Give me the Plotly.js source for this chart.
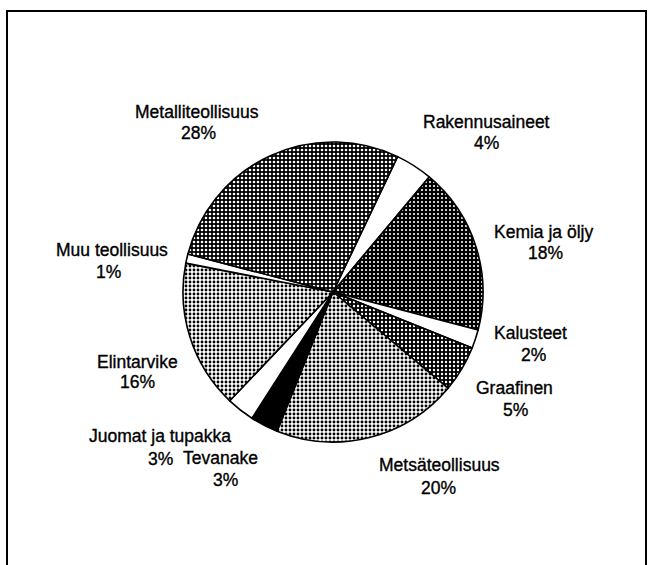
<!DOCTYPE html>
<html>
<head>
<meta charset="utf-8">
<script src="https://cdn.plot.ly/plotly-3.0.1.min.js"></script>
<style>
html,body{margin:0;padding:0;background:#fff;}
#chart{width:650px;height:565px;}
#chart .annotation-text{stroke:#000;stroke-width:0.35px;}
</style>
</head>
<body>
<div id="chart"></div>
<script>
// Data
var labels = ["Rakennusaineet", "Kemia ja öljy", "Kalusteet", "Graafinen", "Metsäteollisuus", "Tevanake", "Juomat ja tupakka", "Elintarvike", "Muu teollisuus", "Metalliteollisuus"];
var values = [4, 18, 2, 5, 20, 3, 3, 16, 1, 28];

// Styles (halftone-like fills)
var bgColors = ["#ffffff", "#000000", "#ffffff", "#000000", "#ffffff", "#000000", "#ffffff", "#ffffff", "#ffffff", "#000000"];
var fgColors = ["#ffffff", "#ffffff", "#ffffff", "#ffffff", "#000000", "#000000", "#ffffff", "#000000", "#ffffff", "#ffffff"];
var shapes   = ["", ".", "", ".", ".", "", "", ".", "", "."];
var solid    = [0.3, 0.22, 0.3, 0.28, 0.42, 0.3, 0.3, 0.4, 0.3, 0.34];

// Label positions in pixels (centre of name line, centre of percent line)
var namePos = [[486, 122], [543, 232], [530, 333], [514, 388], [439, 465], [220, 458], [160, 436], [137, 362], [112, 250], [197, 112]];
var pctPos  = [[486, 143], [545, 253], [533, 355], [515, 410], [438, 488], [225, 480], [160, 459], [137, 382], [108, 272], [198, 133]];

var W = 650, H = 565;
var font = {family: "Liberation Sans, Arial, sans-serif", size: 17.5, color: "#000"};
function ann(text, p) {
  return {text: text, x: p[0] / W, y: 1 - p[1] / H, xref: "paper", yref: "paper", showarrow: false,
          xanchor: "center", yanchor: "middle", font: font};
}
var annotations = [];
labels.forEach(function (l, i) {
  annotations.push(ann(l, namePos[i]));
  annotations.push(ann(values[i] + "%", pctPos[i]));
});

var cx = 333, cy = 292, r = 150;
var trace = {
  type: "pie",
  labels: labels,
  values: values,
  sort: false,
  direction: "clockwise",
  rotation: 25.5,
  textinfo: "none",
  hoverinfo: "label+percent",
  showlegend: false,
  domain: {x: [(cx - r) / W, (cx + r) / W], y: [1 - (cy + r) / H, 1 - (cy - r) / H]},
  marker: {
    colors: bgColors,
    line: {color: "#000", width: 1.6},
    pattern: {shape: shapes, fgcolor: fgColors, bgcolor: bgColors, size: 4, solidity: solid, fillmode: "replace"}
  }
};

var layout = {
  width: W, height: H,
  margin: {l: 0, r: 0, t: 0, b: 0},
  paper_bgcolor: "#fff",
  showlegend: false,
  annotations: annotations,
  shapes: [{type: "rect", xref: "paper", yref: "paper", x0: 7 / W, x1: 646 / W, y0: -0.05, y1: 1 - 11 / H, line: {color: "#000", width: 2}}]
};

Plotly.newPlot("chart", [trace], layout, {displayModeBar: false, staticPlot: true});
</script>
</body>
</html>
